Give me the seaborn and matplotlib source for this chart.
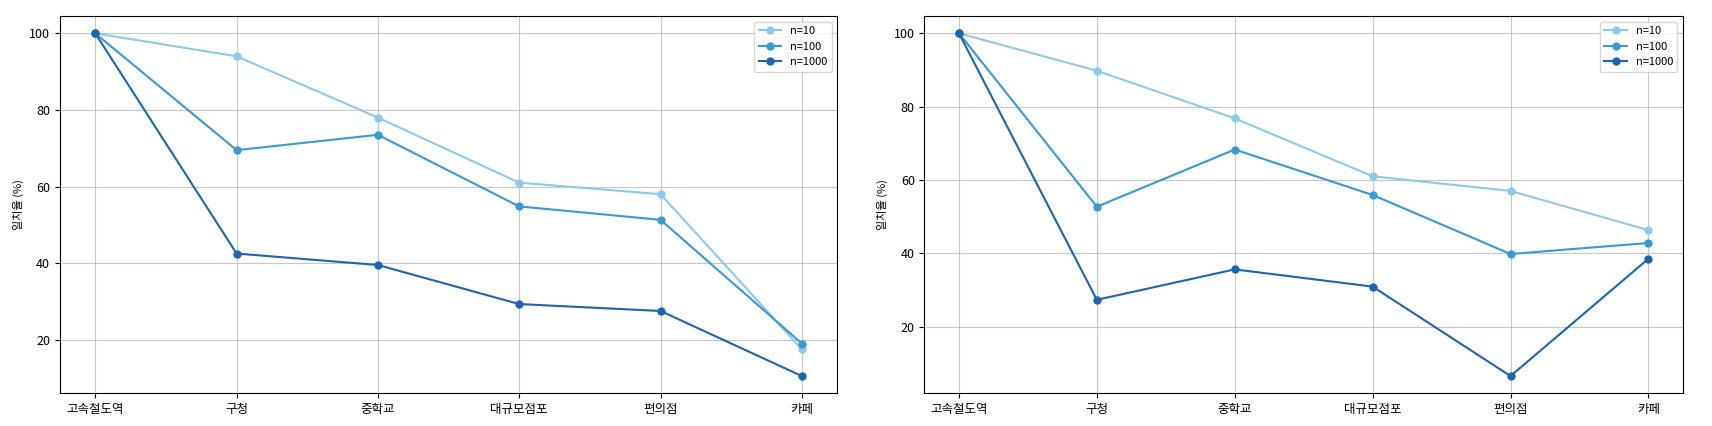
import matplotlib
matplotlib.use("Agg")
import matplotlib.pyplot as plt
import seaborn as sns
import pandas as pd

plt.rcParams["font.family"] = ["Noto Sans CJK KR", "Noto Sans CJK JP", "Noto Sans CJK SC", "DejaVu Sans"]
plt.rcParams["axes.unicode_minus"] = False

categories = ["고속철도역", "구청", "중학교", "대규모점포", "편의점", "카페"]
series_names = ["n=10", "n=100", "n=1000"]
colors = ["#8ec8ea", "#3a98d4", "#1f64ae"]

left_n10 = [100, 94.0, 78.0, 61.0, 58.0, 17.5]
left_n100 = [100, 69.5, 73.5, 54.8, 51.3, 19.0]
left_n1000 = [100, 42.5, 39.5, 29.3, 27.5, 10.5]

right_n10 = [100, 89.8, 76.8, 61.0, 57.0, 46.3]
right_n100 = [100, 52.7, 68.3, 55.9, 39.8, 42.8]
right_n1000 = [100, 27.3, 35.6, 30.9, 6.5, 38.5]


def make_df(vals):
    rows = []
    for name, v in zip(series_names, vals):
        for c, y in zip(categories, v):
            rows.append({"place": c, "rate": y, "n": name})
    return pd.DataFrame(rows)


fig, axes = plt.subplots(1, 2, figsize=(17.12, 4.26), dpi=100)
panels = [(left_n10, left_n100, left_n1000), (right_n10, right_n100, right_n1000)]

for ax, vals in zip(axes, panels):
    df = make_df(vals)
    sns.lineplot(data=df, x="place", y="rate", hue="n", palette=colors,
                 marker="o", markersize=6, markeredgewidth=0, linewidth=1.5,
                 sort=False, ax=ax)
    ax.set_xlabel("")
    ax.set_ylabel("일치율 (%)", fontsize=8)
    ax.set_yticks([20, 40, 60, 80, 100])
    ax.tick_params(labelsize=9)
    ax.grid(True, alpha=0.7)
    ax.set_axisbelow(True)
    ax.legend(loc="upper right", fontsize=8)

axes[0].set_position([0.035, 0.077, 0.454, 0.885])
axes[1].set_position([0.540, 0.077, 0.443, 0.885])

fig.savefig("out.png", dpi=100)
